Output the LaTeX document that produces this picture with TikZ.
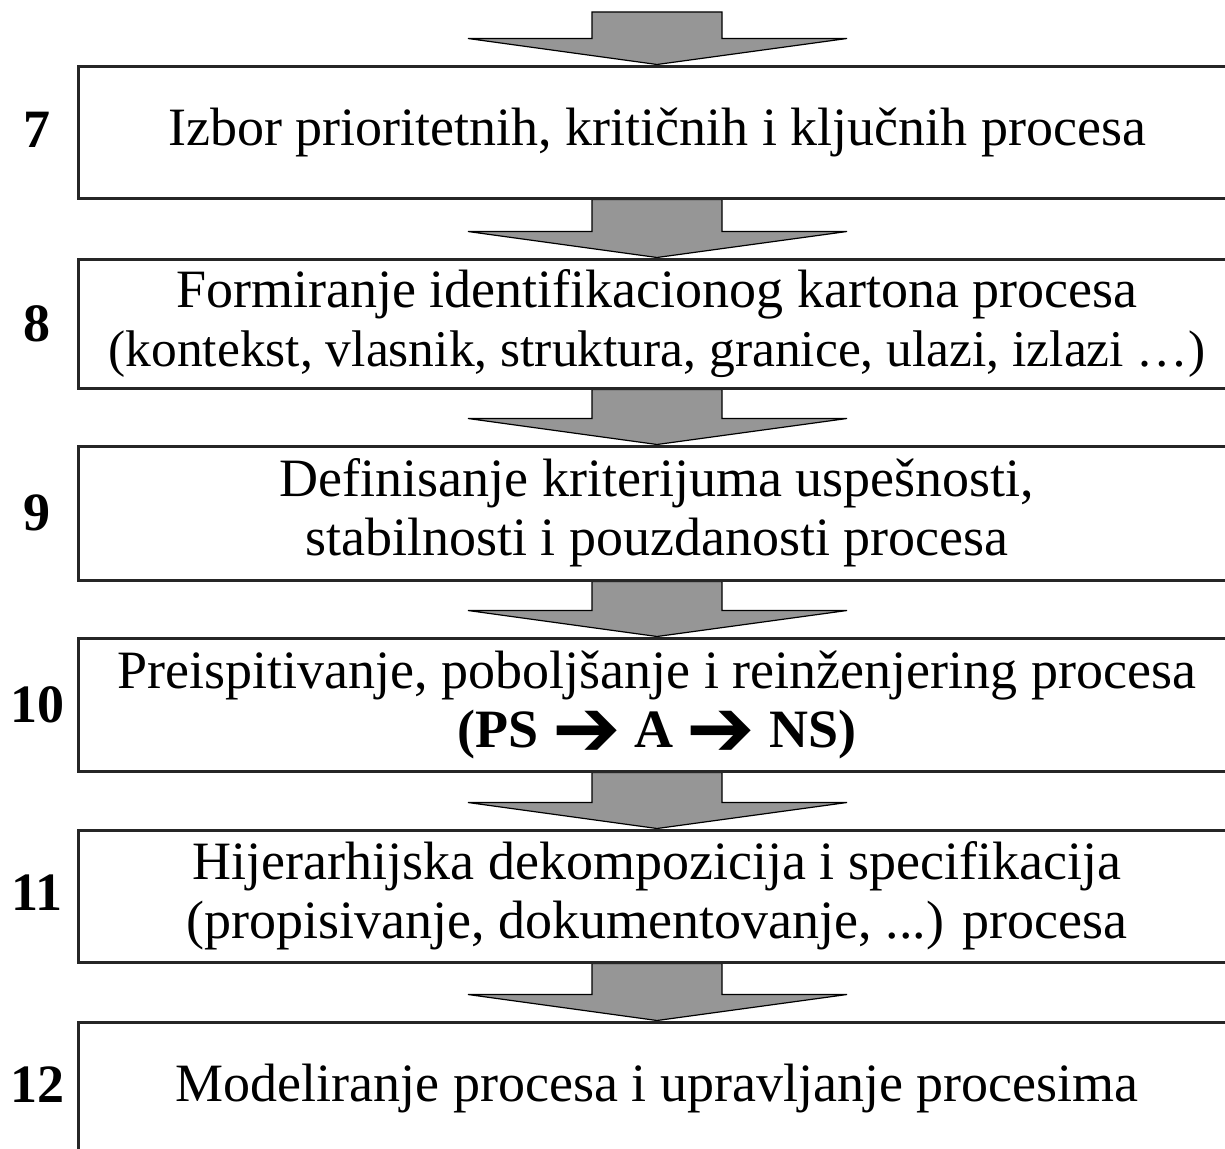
\documentclass[tikz,border=0pt]{standalone}
\usepackage{fontspec}
\setmainfont{Liberation Serif}
\newfontfamily\symfont{DejaVu Sans}
\usetikzlibrary{calc,backgrounds}
\definecolor{arrowgray}{RGB}{150,150,150}
\newcommand{\hvarrow}{\raisebox{-9pt}[0pt][0pt]{\symfont\fontsize{82}{82}\selectfont\symbol{"2794}}}
\begin{document}
\begin{tikzpicture}[x=1pt,y=-1pt,
  box/.style={draw=black!85, line width=3pt, minimum width=1158pt, inner sep=0pt,
    align=center, font=\fontsize{54}{59}\selectfont},
  num/.style={font=\fontsize{54}{59}\selectfont\bfseries, inner sep=0pt},
  barrow/.style={draw=black, line width=1.2pt, fill=arrowgray, line join=miter}]
\useasboundingbox (0,0) rectangle (1225,1148);
\node[box, minimum height=132pt] (b7) at (657,132) {Izbor prioritetnih, kritičnih i ključnih procesa};
\node[box, minimum height=129pt] (b8) at (657,323.5) {Formiranje identifikacionog kartona procesa\\{\fontsize{51.5}{59}\selectfont(kontekst, vlasnik, struktura, granice, ulazi, izlazi …)}};
\node[box, minimum height=134pt] (b9) at (657,513) {Definisanje kriterijuma uspešnosti,\\stabilnosti i pouzdanosti procesa};
\node[box, minimum height=133pt] (b10) at (657,704.5) {Preispitivanje, poboljšanje i reinženjering procesa\\\textbf{(PS \hvarrow{} A \hvarrow{} NS)}};
\node[box, minimum height=132pt] (b11) at (657,896) {Hijerarhijska dekompozicija i specifikacija\\(propisivanje, dokumentovanje, ...) procesa};
\node[box, minimum height=132pt] (b12) at (657,1088) {Modeliranje procesa i upravljanje procesima};
\node[num] (n7) at (37,130) {7};
\node[num] (n8) at (37,323.5) {8};
\node[num] (n9) at (37,513) {9};
\node[num] (n10) at (37,704.5) {10};
\node[num] (n11) at (37,893) {11};
\node[num] (n12) at (37,1085) {12};
\coordinate (start) at (657,12);
\begin{scope}[on background layer]
\foreach \a/\an/\b in {start/center/b7, b7/south/b8, b8/south/b9, b9/south/b10, b10/south/b11, b11/south/b12}{
  \draw[barrow] let \p1=(\a.\an), \p2=(\b.north) in
    (\x1-65pt,\y1) -- (\x1-65pt,\y2+26pt) -- (\x1-189pt,\y2+26pt) -- (\x1,\y2)
    -- (\x1+190pt,\y2+26pt) -- (\x1+65pt,\y2+26pt) -- (\x1+65pt,\y1) -- cycle;
}
\end{scope}
\end{tikzpicture}
\end{document}
